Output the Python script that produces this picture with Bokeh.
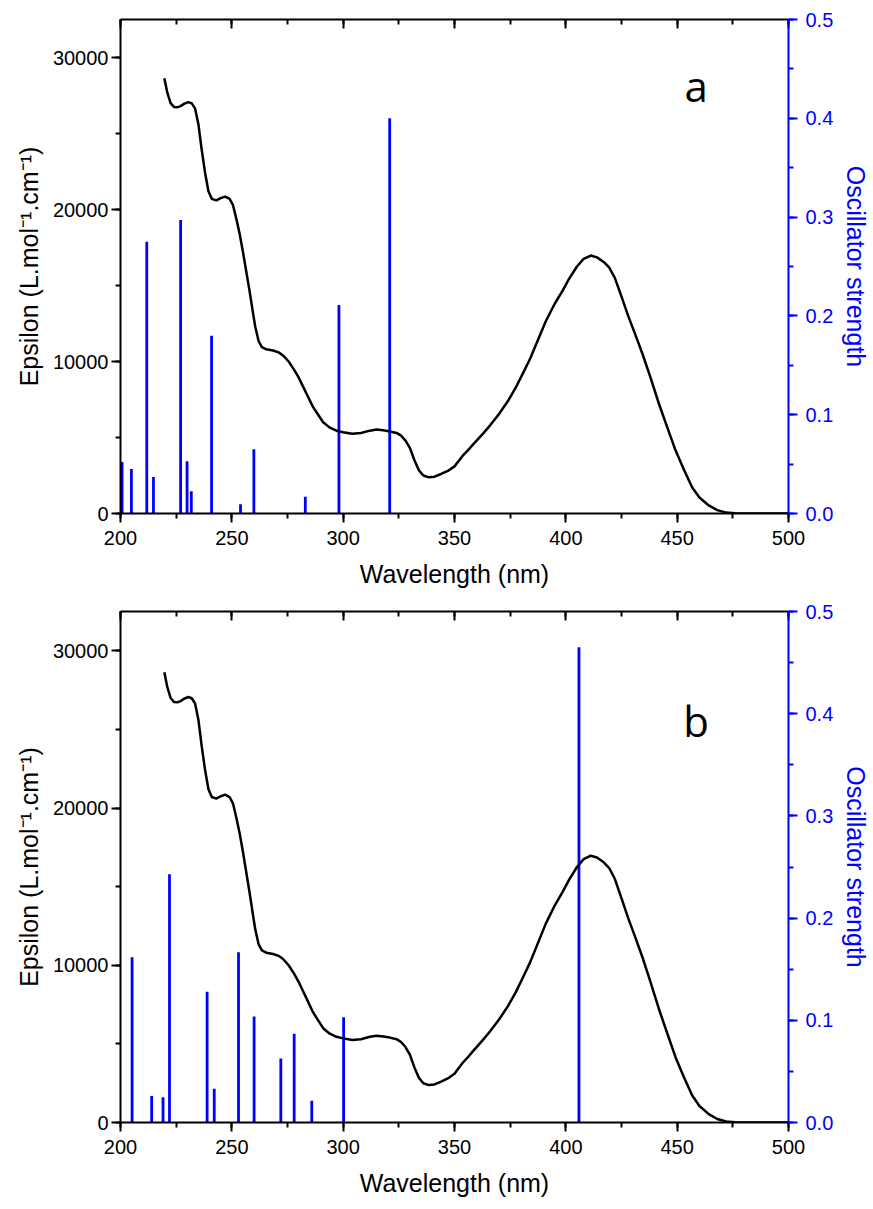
from bokeh.plotting import figure
from bokeh.models import (Range1d, LinearAxis, SingleIntervalTicker, NumeralTickFormatter,
                          CustomJSTickFormatter, Label)
from bokeh.layouts import column
from bokeh.embed import file_html
from bokeh.resources import INLINE

# ---------------- data ----------------
# experimental absorption spectrum (same in both panels)
wavelength = [219.7, 221, 222.5, 224, 225.5, 227, 228.5, 230.5, 232, 233.5, 235, 236.5, 238,
              239.5, 241, 243, 245, 247, 249, 250.5, 252, 253.5, 255, 256.5, 258, 259.5, 260.5,
              262, 263.5, 265.5, 268.5, 271, 273, 275.5, 278, 280, 282, 284, 286.5, 289, 291, 294,
              297, 300, 304, 308, 312, 315, 318, 321, 324, 326, 328, 330, 332, 334, 336, 338.5,
              341, 344, 347, 350, 353.7, 356, 359, 362.7, 366, 370, 374, 377.6, 381, 384, 387,
              391, 395, 398.5, 401.5, 405, 408, 411.2, 414, 417, 419.4, 422, 425.4, 428, 431,
              434.4, 438, 441.8, 445, 449.3, 453, 456.7, 460, 464.2, 468, 472, 476, 480, 490, 500]
epsilon = [28640, 27700, 27000, 26750, 26720, 26800, 26950, 27060, 26980, 26650, 25600, 23900,
           22400, 21200, 20700, 20600, 20750, 20850, 20700, 20300, 19400, 18400, 17200, 15900,
           14600, 13200, 12300, 11350, 10950, 10800, 10720, 10600, 10400, 10000, 9450, 8950,
           8350, 7750, 7000, 6450, 6000, 5650, 5450, 5350, 5250, 5300, 5450, 5520, 5470, 5400,
           5300, 5120, 4800, 4300, 3500, 2850, 2500, 2380, 2420, 2600, 2800, 3100, 3800, 4150,
           4650, 5240, 5800, 6550, 7400, 8310, 9300, 10200, 11250, 12650, 13800, 14650, 15450,
           16250, 16750, 16970, 16850, 16550, 16200, 15500, 14100, 13000, 11850, 10510, 8950,
           7220, 5900, 4140, 2900, 1730, 1050, 530, 220, 60, 15, 5, 0, 0]

# computed transitions, panel a
wl_a = [200.7, 204.9, 211.8, 214.8, 227.0, 229.9, 231.8, 240.9, 253.9, 259.9, 283.0, 298.1, 320.9]
f_a = [0.052, 0.045, 0.275, 0.037, 0.297, 0.053, 0.0225, 0.180, 0.0094, 0.065, 0.017, 0.211, 0.400]

# computed transitions, panel b
wl_b = [205.2, 214.0, 219.1, 222.0, 238.9, 242.1, 253.0, 260.0, 272.0, 278.0, 285.9, 300.2, 405.9]
f_b = [0.1616, 0.026, 0.0248, 0.243, 0.128, 0.033, 0.1665, 0.1038, 0.0627, 0.0868, 0.0212, 0.103, 0.465]

x_label = "Wavelength (nm)"
y_label = "Epsilon (L.mol\u207b\u00b9.cm\u207b\u00b9)"
y2_label = "Oscillator strength"

FONT = "Liberation Sans"
BLUE = "#0000FF"


def style_axis(ax, color="black", standoff=8):
    ax.axis_line_color = color
    ax.axis_line_width = 2
    ax.major_tick_line_color = color
    ax.minor_tick_line_color = color
    ax.major_tick_line_width = 2
    ax.minor_tick_line_width = 2
    ax.major_tick_out = 9
    ax.major_tick_in = 0
    ax.minor_tick_out = 5
    ax.minor_tick_in = 0
    ax.major_label_text_font = FONT
    ax.major_label_text_font_size = "20px"
    ax.major_label_text_color = color
    ax.major_label_standoff = standoff
    ax.axis_label_text_font = FONT
    ax.axis_label_text_font_size = "25px"
    ax.axis_label_text_font_style = "normal"
    ax.axis_label_text_color = color


def panel(wls, fs, letter, letter_y, height, frame_h, top_border):
    bottom_border = height - top_border - frame_h
    p = figure(width=873, height=height, x_range=Range1d(200, 500), y_range=Range1d(0, 32500),
               output_backend="svg", toolbar_location=None,
               min_border_left=120, min_border_right=83,
               min_border_top=top_border, min_border_bottom=bottom_border)
    p.extra_y_ranges = {"f": Range1d(0, 0.5)}
    p.grid.visible = False
    p.outline_line_color = None
    p.background_fill_color = "white"
    p.border_fill_color = "white"

    # bottom axis
    xa = p.xaxis[0]
    xa.ticker = SingleIntervalTicker(interval=50, num_minor_ticks=2)
    style_axis(xa, standoff=8)
    xa.axis_label = x_label
    xa.axis_label_standoff = 12

    # left axis
    ya = p.yaxis[0]
    ya.ticker = SingleIntervalTicker(interval=10000, num_minor_ticks=2)
    ya.formatter = NumeralTickFormatter(format="0")
    style_axis(ya, standoff=3)
    ya.axis_label = y_label
    ya.axis_label_standoff = 7

    # right axis (oscillator strength)
    ra = LinearAxis(y_range_name="f",
                    ticker=SingleIntervalTicker(interval=0.1, num_minor_ticks=2),
                    formatter=NumeralTickFormatter(format="0.0"))
    style_axis(ra, color=BLUE, standoff=8)
    ra.axis_label = y2_label
    ra.axis_label_standoff = 6
    p.add_layout(ra, "right")

    # top axis: ticks pointing inward, no labels
    ta = LinearAxis(ticker=SingleIntervalTicker(interval=50, num_minor_ticks=2),
                    formatter=CustomJSTickFormatter(code="return ''"))
    style_axis(ta, standoff=0)
    ta.major_tick_out = 0
    ta.minor_tick_out = 0
    ta.major_tick_in = 9
    ta.minor_tick_in = 5
    p.add_layout(ta, "above")

    # transitions
    p.segment(x0=wls, y0=[0] * len(wls), x1=wls, y1=fs, y_range_name="f",
              line_color=BLUE, line_width=2.8, line_cap="butt")
    # experimental spectrum
    p.line(wavelength, epsilon, line_color="black", line_width=2.5, line_join="round")

    p.add_layout(Label(x=458.5, y=letter_y, text=letter, text_font="Open Sans",
                       text_font_size="42px", text_align="center", text_baseline="alphabetic",
                       text_color="black"))
    return p


p1 = panel(wl_a, f_a, "a", 28150, 600, 494, 19)
p2 = panel(wl_b, f_b, "b", 25590, 605, 511, 11)

layout = column(p1, p2, spacing=0)
open("out.html", "w").write(file_html(layout, INLINE))
